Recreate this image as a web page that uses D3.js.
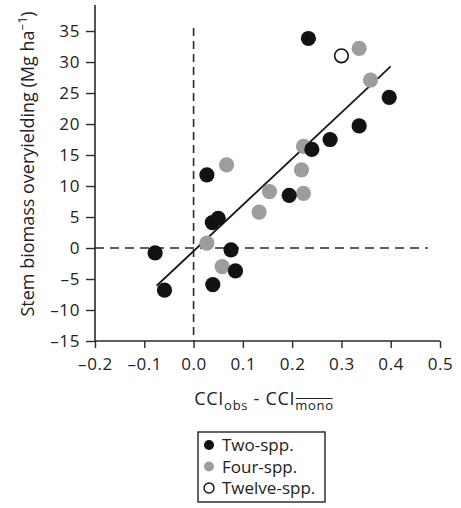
<!DOCTYPE html>
<html>
<head>
<meta charset="utf-8">
<script src="https://cdn.jsdelivr.net/npm/d3@7"></script>
<style>
  html, body { margin: 0; padding: 0; background: #fff; }
  svg { display: block; }
  text { font-family: "Open Sans", "Noto Sans", sans-serif; fill: #222; }
</style>
</head>
<body>
<svg id="chart" width="461" height="508"></svg>
<script>
// Stem biomass overyielding versus change in crown complementarity index
const twoX   = [0.233, 0.397, 0.336, 0.277, 0.240, 0.027, 0.194, 0.038, 0.050, 0.076, 0.085, 0.039, -0.078, -0.059];
const twoY   = [33.8, 24.3, 19.7, 17.5, 15.9, 11.8, 8.5, 4.1, 4.8, -0.3, -3.7, -5.9, -0.8, -6.8];
const fourX  = [0.336, 0.359, 0.067, 0.223, 0.219, 0.154, 0.223, 0.133, 0.027, 0.058];
const fourY  = [32.2, 27.1, 13.4, 16.4, 12.6, 9.1, 8.8, 5.8, 0.8, -3.0];
const twelveX = [0.300];
const twelveY = [31.0];

// Least-squares fit shown as the solid line
const fitSlope = 74.5;
const fitIntercept = -0.5;
const fitRange = [-0.075, 0.40];

const xTicks = [-0.2, -0.1, 0.0, 0.1, 0.2, 0.3, 0.4, 0.5];
const yTicks = [-15, -10, -5, 0, 5, 10, 15, 20, 25, 30, 35];
const legendLabels = ["Two-spp.", "Four-spp.", "Twelve-spp."];

const svg = d3.select("#chart");

const x = d3.scaleLinear().domain([-0.2, 0.5]).range([95, 440]);
const y = d3.scaleLinear().domain([-15, 39.2]).range([341, 5]);

const axisColor = "#2a2a2a";

// Reference lines at zero
svg.append("line")
  .attr("x1", x(0)).attr("x2", x(0))
  .attr("y1", y(35.5)).attr("y2", y(-15))
  .attr("stroke", axisColor).attr("stroke-width", 1.6)
  .attr("stroke-dasharray", "8,5");
svg.append("line")
  .attr("x1", x(-0.2)).attr("x2", x(0.475))
  .attr("y1", y(0)).attr("y2", y(0))
  .attr("stroke", axisColor).attr("stroke-width", 1.6)
  .attr("stroke-dasharray", "9,6");

// Axes
const dash = "\u2013";
const yAxis = svg.append("g")
  .attr("transform", `translate(${x(-0.2)},0)`)
  .call(d3.axisLeft(y).tickValues(yTicks).tickSize(9).tickPadding(6)
    .tickFormat(d => d < 0 ? dash + Math.abs(d) : d));
const xAxis = svg.append("g")
  .attr("transform", `translate(0,${y(-15)})`)
  .call(d3.axisBottom(x).tickValues(xTicks).tickSize(7).tickPadding(10)
    .tickFormat(d => (d < 0 ? dash : "") + Math.abs(d).toFixed(1)));

[yAxis, xAxis].forEach(g => {
  g.select(".domain").attr("stroke", axisColor).attr("stroke-width", 1.6);
  g.selectAll(".tick line").attr("stroke", axisColor).attr("stroke-width", 1.4);
  g.selectAll(".tick text")
    .style("font-family", '"Open Sans", sans-serif')
    .style("font-size", "17px").style("letter-spacing", "0.6px")
    .attr("fill", "#222");
});
yAxis.select(".domain").attr("d", `M0,${y(-15)}V${y(39.2)}`);
xAxis.select(".domain").attr("d", `M${x(-0.2)},0H${x(0.5)}`);

// Regression line
svg.append("line")
  .attr("x1", x(fitRange[0])).attr("y1", y(fitSlope * fitRange[0] + fitIntercept))
  .attr("x2", x(fitRange[1])).attr("y2", y(fitSlope * fitRange[1] + fitIntercept))
  .attr("stroke", "#1a1a1a").attr("stroke-width", 1.8);

// Points
const r = 7.6;
const four = d3.zip(fourX, fourY);
const two = d3.zip(twoX, twoY);
const twelve = d3.zip(twelveX, twelveY);

svg.append("g").selectAll("circle").data(four).join("circle")
  .attr("cx", d => x(d[0])).attr("cy", d => y(d[1])).attr("r", r)
  .attr("fill", "#9d9d9d");
svg.append("g").selectAll("circle").data(two).join("circle")
  .attr("cx", d => x(d[0])).attr("cy", d => y(d[1])).attr("r", r)
  .attr("fill", "#121212");
svg.append("g").selectAll("circle").data(twelve).join("circle")
  .attr("cx", d => x(d[0])).attr("cy", d => y(d[1])).attr("r", r - 0.8)
  .attr("fill", "#fff").attr("stroke", "#121212").attr("stroke-width", 1.6);

// Y axis title
const yTitle = svg.append("text")
  .attr("transform", "translate(34,164) rotate(-90)")
  .attr("text-anchor", "middle")
  .style("font-size", "18px");
yTitle.append("tspan").text("Stem biomass overyielding (Mg ha");
yTitle.append("tspan").attr("dy", -7).style("font-size", "12px").text("\u22121");
yTitle.append("tspan").attr("dy", 7).text(")");

// X axis title with subscripts and an overbar on "mono"
const xTitle = svg.append("text")
  .attr("x", 264).attr("y", 405)
  .attr("text-anchor", "middle")
  .style("font-size", "18px").style("letter-spacing", "0.7px");
xTitle.append("tspan").text("CCI");
xTitle.append("tspan").attr("dy", 5).style("font-size", "13px").text("obs");
xTitle.append("tspan").attr("dy", -5).text(" - CCI");
const mono = xTitle.append("tspan").attr("dy", 5).style("font-size", "13px").text("mono");
const mb = mono.node().getBBox();
svg.append("line")
  .attr("x1", mb.x + 0.5).attr("x2", mb.x + mb.width - 1)
  .attr("y1", mb.y + 2.5).attr("y2", mb.y + 2.5)
  .attr("stroke", "#222").attr("stroke-width", 1.1);

// Legend
const lg = svg.append("g").attr("transform", "translate(198,432)");
lg.append("rect").attr("width", 127).attr("height", 70)
  .attr("fill", "#fff").attr("stroke", "#222").attr("stroke-width", 1.4);
const legendStyles = [
  { fill: "#121212", stroke: "none" },
  { fill: "#9d9d9d", stroke: "none" },
  { fill: "#fff", stroke: "#121212" }
];
legendLabels.forEach((label, i) => {
  const cy = 13 + i * 21.5;
  lg.append("circle").attr("cx", 11).attr("cy", cy).attr("r", 5)
    .attr("fill", legendStyles[i].fill)
    .attr("stroke", legendStyles[i].stroke).attr("stroke-width", 1.4);
  lg.append("text").attr("x", 24).attr("y", cy + 6)
    .style("font-size", "17px").text(label);
});
</script>
</body>
</html>
